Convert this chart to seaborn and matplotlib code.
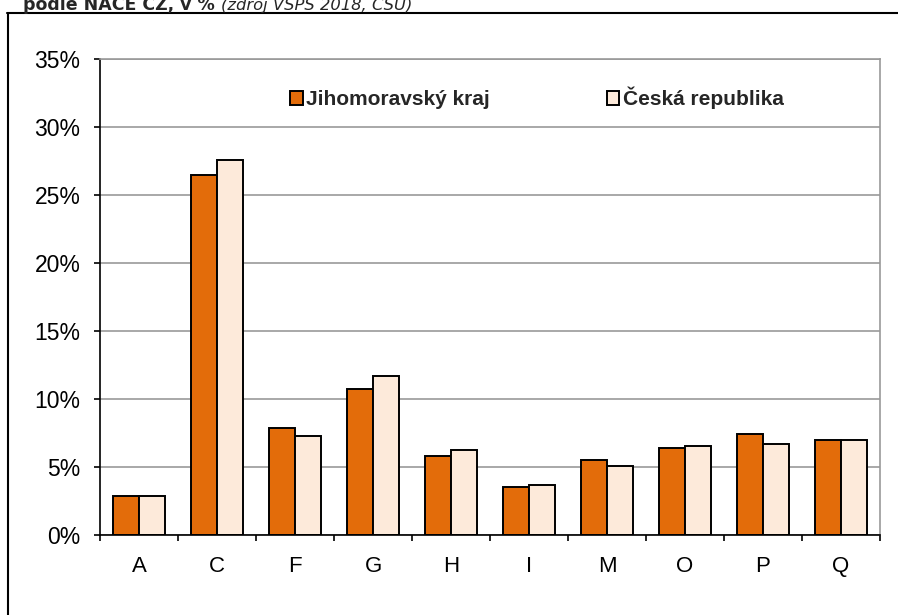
import matplotlib
matplotlib.use("Agg")
import matplotlib.pyplot as plt
from matplotlib.lines import Line2D
from matplotlib.patches import Patch
from matplotlib.ticker import FuncFormatter, MultipleLocator, FixedLocator
import seaborn as sns
import pandas as pd

# Data (podíl zaměstnaných podle NACE CZ, v %)
sekce = ["A", "C", "F", "G", "H", "I", "M", "O", "P", "Q"]
jihomoravsky = [2.9, 26.5, 7.9, 10.7, 5.8, 3.5, 5.5, 6.4, 7.45, 7.0]
cr = [2.9, 27.6, 7.3, 11.7, 6.25, 3.65, 5.1, 6.55, 6.7, 7.0]
serie = ["Jihomoravský kraj", "Česká republika"]
barvy = ["#E36C0A", "#FDEADA"]

df = pd.DataFrame({
    "sekce": sekce * 2,
    "hodnota": jihomoravsky + cr,
    "serie": [serie[0]] * len(sekce) + [serie[1]] * len(sekce),
})

sns.set_style("white")
plt.rcParams["font.family"] = ["Liberation Sans", "DejaVu Sans"]

fig = plt.figure(figsize=(8.98, 6.15), dpi=100)
ax = fig.add_axes([100 / 898, 1 - 535 / 615, 780 / 898, 476 / 615])

sns.barplot(data=df, x="sekce", y="hodnota", hue="serie", order=sekce,
            hue_order=serie, palette=barvy, width=0.67, edgecolor="black",
            linewidth=1.4, saturation=1, ax=ax, legend=False)

ax.set_xlim(-0.5, len(sekce) - 0.5)
ax.set_ylim(0, 35)
ax.yaxis.set_major_locator(MultipleLocator(5))
ax.yaxis.set_major_formatter(FuncFormatter(lambda v, p: f"{v:.0f}%"))
ax.grid(axis="y", color="#999999", linewidth=1.2)
ax.set_axisbelow(True)
ax.set_xlabel("")
ax.set_ylabel("")

for s in ["top", "right"]:
    ax.spines[s].set_color("#999999")
    ax.spines[s].set_linewidth(1.2)
for s in ["left", "bottom"]:
    ax.spines[s].set_color("black")
    ax.spines[s].set_linewidth(1.2)

ax.xaxis.set_minor_locator(FixedLocator([i - 0.5 for i in range(len(sekce) + 1)]))
ax.tick_params(axis="x", which="major", length=0, pad=15, labelsize=16, colors="black")
ax.tick_params(axis="x", which="minor", bottom=True, length=4, width=1.2, direction="out", color="black")
ax.tick_params(axis="y", left=True, length=4, width=1.2, direction="out", pad=10,
               labelsize=16.5, colors="black")

handles = [Patch(facecolor=c, edgecolor="black", linewidth=1.4) for c in barvy]
ax.legend(handles, serie, loc="center", bbox_to_anchor=(0.56, 0.918), ncol=2,
          frameon=False, handlelength=0.62, handleheight=0.62, handletextpad=0.15,
          columnspacing=5.6, prop={"weight": "bold", "size": 15})

# ramecek grafu
fig.add_artist(Line2D([7.5 / 898, 7.5 / 898], [0, 1 - 13 / 615], color="black",
                      linewidth=1.5, transform=fig.transFigure))
fig.add_artist(Line2D([7 / 898, 1], [1 - 13 / 615, 1 - 13 / 615], color="black",
                      linewidth=1.5, transform=fig.transFigure))

# nadpis (oriznuty nahore)
t1 = fig.text(23 / 898, 1 - 10 / 615, "podle NACE CZ, v %", fontsize=12.5,
              fontweight="bold", family="DejaVu Sans", va="baseline")
fig.canvas.draw()
bb = t1.get_window_extent()
fig.text((bb.x1 + 6) / 898, 1 - 10 / 615, "(zdroj VSPS 2018, ČSÚ)", fontsize=11.8,
         fontstyle="italic", family="DejaVu Sans", va="baseline")

fig.savefig("out.png", dpi=100)
